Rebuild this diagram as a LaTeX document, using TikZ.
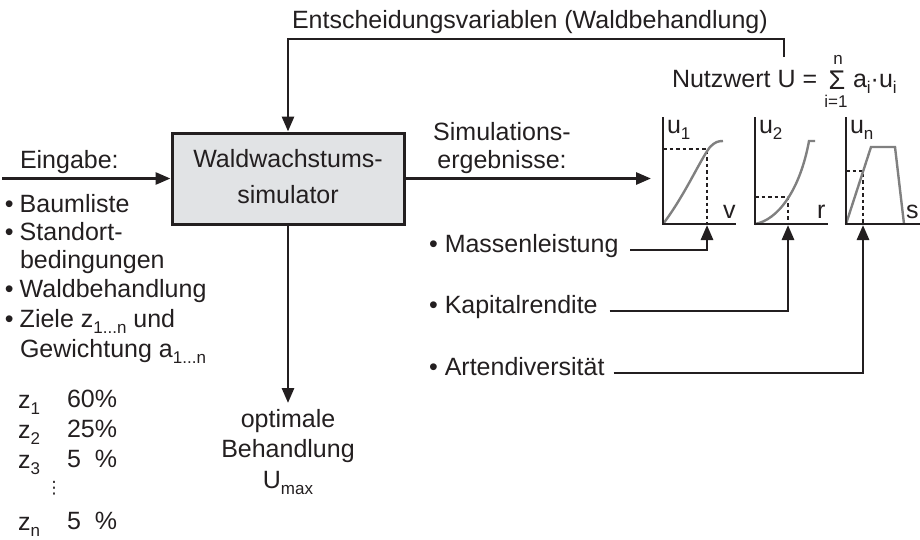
\documentclass[tikz,border=0pt]{standalone}
\usepackage{fontspec}
\setmainfont{Liberation Sans}
\newfontfamily\dejavu{DejaVu Sans}
\usetikzlibrary{arrows.meta}
\definecolor{ink}{HTML}{231F20}
\definecolor{boxfill}{HTML}{E1E3E5}
\definecolor{curvegray}{HTML}{808080}
\newcommand\lowr[1]{\raisebox{-6pt}{\fontsize{17}{17}\selectfont #1}}
\begin{document}
\begin{tikzpicture}[x=1pt,y=-1pt, font=\fontsize{25}{29}\selectfont, text=ink,
  txt/.style={inner sep=0pt, outer sep=0pt, anchor=base west},
  simbox/.style={draw=ink, line width=3pt, fill=boxfill, minimum width=232pt, minimum height=91pt, inner sep=0pt, align=center, font=\fontsize{25}{36}\selectfont},
  conn/.style={draw=ink, line width=2.8pt},
  arr/.style={conn, -{Triangle[length=15pt,width=12pt]}},
  axisl/.style={draw=ink, line width=2.8pt},
  ucurve/.style={draw=curvegray, line width=2.4pt},
  dotl/.style={draw=ink, line width=2.8pt, dash pattern=on 3.5pt off 3pt}]
\path[use as bounding box] (0,0) rectangle (920,539);

% simulator box
\node[simbox] (sim) at (288,178.5) {Waldwachstums-\\simulator\rule[-5pt]{0pt}{0pt}};

% input
\coordinate (inS) at (2,178.5);
\node[txt] (eing) at (20,168) {Eingabe:};
\draw[arr] (inS) -- (sim.west);
\node[txt] (l1) at (5,212) {•\kern6pt Baumliste};
\node[txt] (l2) at (5,240) {•\kern6pt Standort-};
\node[txt] (l3) at (20,268) {bedingungen};
\node[txt] (l4) at (5,297) {•\kern6pt Waldbehandlung};
\node[txt] (l5) at (5,327) {•\kern6pt Ziele z\lowr{1...n} und};
\node[txt] (l6) at (20,357) {Gewichtung a\lowr{1...n}};

\node[txt] (z1) at (18,408) {z\lowr{1}};
\node[txt] (p1) at (67,407) {60\%};
\node[txt] (z2) at (18,438) {z\lowr{2}};
\node[txt] (p2) at (67,437) {25\%};
\node[txt] (z3) at (18,468) {z\lowr{3}};
\node[txt] (p3) at (67,467) {5\phantom{0}\%};
\node[inner sep=0pt] (vd) at (54,488) {\dejavu\fontsize{17}{17}\selectfont ⋮};
\node[txt] (zn) at (18,530) {z\lowr{n}};
\node[txt] (pn) at (67,529) {5\phantom{0}\%};

% feedback
\node[txt] (ent) at (292,28) {Entscheidungsvariablen (Waldbehandlung)};
\coordinate (fbS) at (784,57);
\coordinate (fbC) at (784,39);
\draw[arr] (fbS) -- (fbC) -| (sim.north);

% output
\node[inner sep=0pt, anchor=north, align=center, font=\fontsize{25}{28}\selectfont] (simres) at (502,122) {Simulations-\\ergebnisse:};
\coordinate (outE) at (651,178.5);
\draw[arr] (sim.east) -- (outE);

% result below
\node[inner sep=0pt, anchor=north, align=center, font=\fontsize{25}{30.5}\selectfont] (opt) at (288,409) {optimale\\Behandlung\\U\lowr{max}};
\draw[arr] (sim.south) -- ([yshift=6pt]opt.north);

% formula
\node[txt] (nw) at (672,87) {Nutzwert U =};
\node[txt, anchor=base, font=\fontsize{27}{27}\selectfont] (sig) at (837,89) {Σ};
\node[txt, anchor=base] (sup) at (838,64) {\fontsize{17}{17}\selectfont n};
\node[txt, anchor=base] (sub) at (836,107) {\fontsize{17}{17}\selectfont i=1};
\node[txt] (ai) at (853,87) {a\lowr{i}·u\lowr{i}};

% graph 1
\draw[dotl] (663,149) -- (707,149) -- (707,224);
\draw[ucurve] (663,224) .. controls (685,195) and (700,160) .. (710,147) .. controls (715,142) and (718,141) .. (723,141);
\draw[axisl] (663,117) -- (663,224) -- (736,224);
\node[txt] (u1) at (667,133) {u\lowr{1}};
\node[txt] (lv) at (723,218) {v};

% graph 2
\draw[dotl] (755,197) -- (788,197) -- (788,224);
\draw[ucurve] (755,224) .. controls (778,220) and (800,190) .. (809,141) -- (815,141);
\draw[axisl] (755,117) -- (755,224) -- (828,224);
\node[txt] (u2) at (759,133) {u\lowr{2}};
\node[txt] (lr) at (817,218) {r};

% graph 3
\draw[dotl] (846,171) -- (863,171) -- (863,224);
\draw[ucurve] (846,224) -- (871,147) -- (895,147) -- (904,224);
\draw[axisl] (846,117) -- (846,224) -- (920,224);
\node[txt] (un) at (850,133) {u\lowr{n}};
\node[txt] (ls) at (906,218) {s};

% criteria
\node[txt, anchor=mid west] (mass) at (429,250) {•\kern7pt Massenleistung};
\node[txt, anchor=mid west] (kap) at (429,311) {•\kern7pt Kapitalrendite};
\node[txt, anchor=mid west] (art) at (429,373) {•\kern7pt Artendiversität};
\coordinate (a1) at (707,225);
\coordinate (a2) at (788,225);
\coordinate (a3) at (863,225);
\draw[arr] ([xshift=12pt]mass.mid east) -| (a1);
\draw[arr] ([xshift=12pt]kap.mid east) -| (a2);
\draw[arr] ([xshift=9pt]art.mid east) -| (a3);
\end{tikzpicture}
\end{document}
